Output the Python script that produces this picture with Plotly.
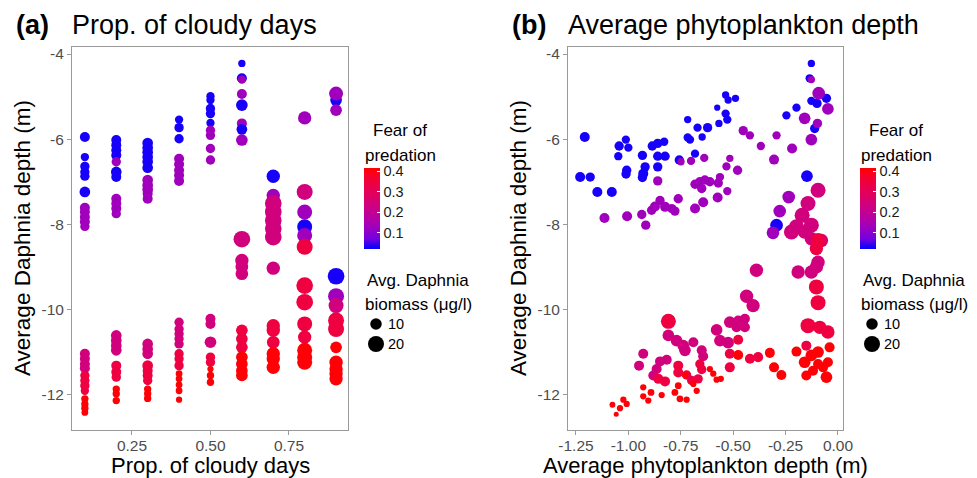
import math
import plotly.graph_objects as go

# ---------------- Panel (a): proportion of cloudy days ----------------
cloudy_a = [
    0.1, 0.1, 0.1, 0.1, 0.1, 0.1, 0.1, 0.1, 0.1, 0.1, 0.1, 0.1, 0.1, 0.1, 0.1, 0.1, 0.1, 0.1, 0.1, 0.1, 0.1, 0.1, 0.1,
    0.2, 0.2, 0.2, 0.2, 0.2, 0.2, 0.2, 0.2, 0.2, 0.2, 0.2, 0.2, 0.2, 0.2, 0.2, 0.2, 0.2, 0.2, 0.2, 0.2, 0.2,
    0.3, 0.3, 0.3, 0.3, 0.3, 0.3, 0.3, 0.3, 0.3, 0.3, 0.3, 0.3, 0.3, 0.3, 0.3, 0.3, 0.3, 0.3, 0.3, 0.3, 0.3,
    0.4, 0.4, 0.4, 0.4, 0.4, 0.4, 0.4, 0.4, 0.4, 0.4, 0.4, 0.4, 0.4, 0.4, 0.4, 0.4, 0.4, 0.4, 0.4, 0.4, 0.4,
    0.5, 0.5, 0.5, 0.5, 0.5, 0.5, 0.5, 0.5, 0.5, 0.5, 0.5, 0.5, 0.5, 0.5, 0.5, 0.5, 0.5,
    0.6, 0.6, 0.6, 0.6, 0.6, 0.6, 0.6, 0.6, 0.6, 0.6, 0.6, 0.6, 0.6, 0.6, 0.6, 0.6, 0.6, 0.6, 0.6,
    0.7, 0.7, 0.7, 0.7, 0.7, 0.7, 0.7, 0.7, 0.7, 0.7, 0.7, 0.7, 0.7, 0.7,
    0.8, 0.8, 0.8, 0.8, 0.8, 0.8, 0.8, 0.8, 0.8, 0.8, 0.8, 0.8, 0.8,
    0.9, 0.9, 0.9, 0.9, 0.9, 0.9, 0.9, 0.9, 0.9, 0.9, 0.9, 0.9, 0.9,
]
depth_a = [
    -5.95, -6.42, -6.64, -6.77, -6.87, -7.24, -7.61, -7.71, -7.83, -7.94, -8.05, -11.04, -11.16, -11.28, -11.38, -11.55, -11.67, -11.79, -11.91, -12.10, -12.22, -12.32, -12.42,
    -6.02, -6.14, -6.26, -6.38, -6.53, -6.77, -6.89, -7.40, -7.51, -7.63, -7.75, -10.61, -10.73, -10.85, -10.96, -11.32, -11.47, -11.59, -11.87, -11.98, -12.14,
    -6.09, -6.20, -6.31, -6.42, -6.53, -6.67, -6.96, -7.08, -7.18, -7.28, -7.40, -10.81, -10.93, -11.04, -11.32, -11.44, -11.55, -11.67, -11.87, -11.98, -12.09,
    -5.54, -5.73, -5.99, -6.46, -6.59, -6.73, -6.85, -6.98, -10.30, -10.46, -10.57, -10.69, -10.81, -11.04, -11.16, -11.32, -11.51, -11.63, -11.77, -11.91, -12.12,
    -4.99, -5.08, -5.28, -5.40, -5.62, -5.79, -5.91, -6.22, -6.49, -10.22, -10.34, -10.77, -11.12, -11.24, -11.40, -11.55, -11.71,
    -4.22, -4.57, -4.60, -4.94, -5.20, -5.63, -5.77, -6.02, -8.35, -8.85, -9.00, -9.16, -10.49, -10.69, -10.89, -11.12, -11.28, -11.44, -11.55,
    -6.87, -7.32, -7.51, -7.71, -7.91, -8.10, -8.30, -9.03, -10.38, -10.49, -10.77, -11.04, -11.16, -11.36,
    -5.50, -7.24, -7.71, -8.06, -8.26, -8.53, -9.44, -9.83, -10.34, -10.65, -10.96, -11.12, -11.24,
    -5.08, -4.93, -5.32, -9.22, -9.69, -9.91, -10.26, -10.46, -10.89, -11.24, -11.40, -11.51, -11.63,
]
fear_a = [
    0.03, 0.03, 0.03, 0.03, 0.03, 0.03, 0.13, 0.13, 0.13, 0.13, 0.13, 0.24, 0.24, 0.24, 0.24, 0.34, 0.34, 0.34, 0.34, 0.41, 0.41, 0.41, 0.41,
    0.03, 0.03, 0.03, 0.03, 0.13, 0.03, 0.03, 0.13, 0.13, 0.13, 0.13, 0.24, 0.24, 0.24, 0.24, 0.34, 0.34, 0.34, 0.41, 0.41, 0.41,
    0.03, 0.03, 0.03, 0.03, 0.03, 0.03, 0.13, 0.13, 0.13, 0.13, 0.13, 0.24, 0.24, 0.24, 0.34, 0.34, 0.34, 0.34, 0.41, 0.41, 0.41,
    0.03, 0.03, 0.03, 0.13, 0.13, 0.13, 0.13, 0.13, 0.24, 0.24, 0.24, 0.24, 0.24, 0.34, 0.34, 0.34, 0.41, 0.41, 0.41, 0.41, 0.41,
    0.03, 0.03, 0.03, 0.03, 0.03, 0.13, 0.13, 0.13, 0.13, 0.24, 0.24, 0.24, 0.34, 0.34, 0.41, 0.41, 0.41,
    0.03, 0.03, 0.13, 0.13, 0.03, 0.13, 0.03, 0.13, 0.24, 0.24, 0.24, 0.24, 0.34, 0.34, 0.34, 0.41, 0.41, 0.41, 0.41,
    0.03, 0.13, 0.24, 0.24, 0.24, 0.24, 0.24, 0.24, 0.34, 0.34, 0.34, 0.41, 0.41, 0.41,
    0.13, 0.24, 0.13, 0.03, 0.13, 0.34, 0.34, 0.34, 0.34, 0.34, 0.41, 0.41, 0.41,
    0.03, 0.13, 0.13, 0.03, 0.13, 0.24, 0.34, 0.34, 0.41, 0.41, 0.41, 0.41, 0.41,
]
biomass_a = [
    7.8, 6.0, 7.0, 7.0, 7.0, 8.7, 7.8, 7.8, 7.8, 7.8, 7.0, 7.8, 7.8, 7.8, 7.8, 7.0, 7.0, 7.0, 6.0, 5.3, 5.3, 5.3, 5.0,
    7.8, 7.8, 7.8, 7.8, 7.0, 8.7, 7.8, 7.8, 7.8, 7.8, 7.0, 8.7, 8.7, 8.7, 8.7, 7.8, 7.8, 7.0, 5.3, 5.3, 5.3,
    8.7, 8.7, 8.7, 8.7, 8.7, 8.7, 8.7, 8.7, 8.7, 7.8, 7.8, 8.7, 8.7, 8.7, 8.7, 7.8, 7.8, 7.0, 5.3, 5.3, 5.3,
    6.0, 7.0, 7.0, 7.8, 7.8, 7.8, 7.8, 7.8, 7.0, 7.0, 7.0, 7.0, 7.0, 7.0, 7.0, 7.0, 5.0, 5.0, 5.0, 5.0, 4.8,
    6.0, 6.0, 7.0, 7.0, 6.0, 7.0, 7.0, 7.0, 7.0, 7.8, 7.8, 10.3, 7.0, 7.0, 4.8, 5.3, 5.3,
    5.3, 7.8, 6.0, 7.8, 10.3, 7.8, 8.7, 10.3, 21.9, 13.5, 12.1, 12.1, 10.3, 10.3, 10.3, 10.3, 10.3, 10.3, 10.3,
    13.5, 13.5, 21.9, 21.9, 21.9, 21.9, 21.9, 13.5, 13.5, 13.5, 12.1, 13.5, 13.5, 13.5,
    13.5, 20.0, 17.3, 17.3, 17.3, 20.0, 21.9, 21.9, 17.3, 13.5, 17.3, 17.3, 17.3,
    10.3, 14.9, 10.3, 21.9, 20.0, 17.3, 20.0, 20.0, 10.3, 13.5, 13.5, 13.5, 13.5,
]

# ---------------- Panel (b): average phytoplankton depth ----------------
phyto_b = [
    # low fear
    -1.208, -1.230, -1.182, -1.148, -1.079, -1.048, -1.044, -1.012, -1.000, -1.008,
    -1.011, -0.933, -0.920, -0.929, -0.933, -0.886, -0.860, -0.829, -0.860, -0.825,
    -0.860, -0.757, -0.717, -0.717, -0.706, -0.682, -0.670, -0.648, -0.622, -0.568,
    -0.576, -0.536, -0.528, -0.536, -0.524, -0.489, -0.246, -0.198, -0.127, -0.135,
    -0.127, -0.100, -0.055, -0.111, -0.148, -0.293,
    # moderate-low fear
    -0.127, -0.092, -0.048, -0.159, -0.098, -0.127, -0.219, -0.305, -0.293, -0.368,
    -0.452, -0.420, -0.638, -0.516, -0.532, -0.479, -0.749, -0.701, -0.860, -0.682,
    -0.659, -0.635, -0.611, -0.650, -0.563, -0.571, -0.528, -0.574, -0.643, -0.682,
    -0.762, -0.849, -0.873, -0.825, -0.793, -0.889, -0.778, -1.114, -1.006, -0.936,
    -0.917, -0.235, -0.278, -0.310,
    # moderate fear
    -0.095, -0.143, -0.171, -0.198, -0.127, -0.222, -0.159, -0.127, -0.079, -0.389,
    -0.190, -0.127, -0.095, -0.103, -0.436, -0.405, -0.516, -0.476, -0.444, -0.444,
    -0.484, -0.579, -0.563, -0.524, -0.809, -0.770, -0.738, -0.690, -0.730, -0.650,
    -0.643, -0.929, -0.949, -0.849, -0.817, -0.865, -0.881,
    # moderate-high fear
    -0.095, -0.103, -0.103, -0.095, -0.809, -0.476, -0.762, -0.762, -0.722, -0.659,
    -0.650, -0.667, -0.857, -0.825, -0.698, -0.516, -0.516, -0.420, -0.381, -0.143,
    -0.087, -0.048, -0.151,
    # high fear
    -0.476, -0.325, -0.305, -0.270, -0.198, -0.159, -0.127, -0.095, -0.040, -0.048,
    -0.071, -0.119, -0.151, -0.055, -0.095, -0.611, -0.595, -0.579, -0.559, -0.674,
    -0.690, -0.730, -0.762, -0.778, -0.754, -0.722, -0.841, -0.892, -0.905, -0.929,
    -0.929, -1.024, -1.008, -1.040, -1.076, -1.058,
]
depth_b = [
    -5.95, -6.89, -6.89, -7.24, -7.24, -6.40, -6.16, -6.01, -6.20, -6.73,
    -6.82, -6.38, -6.65, -6.81, -6.90, -6.16, -6.10, -6.06, -6.40, -6.40,
    -6.65, -6.49, -5.54, -5.96, -6.01, -6.34, -5.73, -5.95, -5.73, -5.63,
    -5.26, -5.40, -5.54, -4.96, -5.08, -5.04, -5.44, -5.26, -4.22, -4.57,
    -5.10, -5.16, -5.04, -5.75, -6.87, -8.02,
    -4.60, -4.92, -5.29, -5.51, -5.63, -6.01, -6.22, -6.48, -5.91, -6.16,
    -5.80, -5.91, -6.44, -6.45, -6.64, -6.73, -6.53, -6.51, -6.98, -7.06,
    -7.00, -6.96, -7.00, -7.16, -6.89, -7.03, -7.22, -7.37, -7.48, -7.63,
    -7.40, -7.44, -7.58, -7.59, -7.63, -7.67, -7.69, -7.85, -7.81, -7.77,
    -8.02, -7.36, -7.69, -8.20,
    -7.20, -7.51, -7.79, -8.06, -8.02, -8.18, -8.18, -8.34, -8.38, -9.08,
    -9.12, -9.12, -8.89, -9.00, -9.69, -9.91, -10.30, -10.26, -10.22, -10.42,
    -10.42, -10.48, -10.73, -10.78, -10.61, -10.73, -10.85, -10.77, -10.96, -10.96,
    -11.10, -11.04, -11.32, -11.22, -11.18, -11.40, -11.55,
    -8.38, -8.57, -9.47, -9.84, -10.28, -10.71, -11.32, -11.48, -11.54, -11.28,
    -11.41, -11.63, -11.63, -11.69, -11.67, -11.04, -11.36, -11.16, -11.12, -10.38,
    -10.42, -10.53, -10.85,
    -11.07, -11.02, -11.36, -11.54, -10.99, -11.24, -11.08, -11.00, -10.89, -11.24,
    -11.36, -11.44, -11.55, -11.59, -11.28, -11.40, -11.51, -11.65, -11.63, -11.91,
    -11.75, -11.54, -11.79, -11.95, -12.10, -12.12, -12.01, -11.95, -12.14, -11.83,
    -12.04, -12.12, -12.22, -12.32, -12.24, -12.46,
]
fear_b = [
    0.03, 0.03, 0.03, 0.03, 0.03, 0.03, 0.03, 0.03, 0.03, 0.03,
    0.03, 0.03, 0.03, 0.03, 0.03, 0.03, 0.03, 0.03, 0.03, 0.03,
    0.03, 0.03, 0.03, 0.03, 0.03, 0.03, 0.03, 0.03, 0.03, 0.03,
    0.03, 0.03, 0.03, 0.03, 0.03, 0.03, 0.03, 0.03, 0.03, 0.03,
    0.03, 0.03, 0.03, 0.03, 0.03, 0.03,
    0.13, 0.13, 0.13, 0.13, 0.13, 0.13, 0.13, 0.13, 0.13, 0.13,
    0.13, 0.13, 0.13, 0.13, 0.13, 0.13, 0.13, 0.13, 0.13, 0.13,
    0.13, 0.13, 0.13, 0.13, 0.13, 0.13, 0.13, 0.13, 0.13, 0.13,
    0.13, 0.13, 0.13, 0.13, 0.13, 0.13, 0.13, 0.13, 0.13, 0.13,
    0.13, 0.13, 0.13, 0.13,
    0.24, 0.24, 0.24, 0.24, 0.24, 0.24, 0.24, 0.24, 0.24, 0.24,
    0.24, 0.24, 0.24, 0.24, 0.24, 0.24, 0.24, 0.24, 0.24, 0.24,
    0.24, 0.24, 0.24, 0.24, 0.24, 0.24, 0.24, 0.24, 0.24, 0.24,
    0.24, 0.24, 0.24, 0.24, 0.24, 0.24, 0.24,
    0.34, 0.34, 0.34, 0.34, 0.34, 0.34, 0.34, 0.34, 0.34, 0.34,
    0.34, 0.34, 0.34, 0.34, 0.34, 0.34, 0.34, 0.34, 0.34, 0.34,
    0.34, 0.34, 0.34,
    0.41, 0.41, 0.41, 0.41, 0.41, 0.41, 0.41, 0.41, 0.41, 0.41,
    0.41, 0.41, 0.41, 0.41, 0.41, 0.41, 0.41, 0.41, 0.41, 0.41,
    0.41, 0.41, 0.41, 0.41, 0.41, 0.41, 0.41, 0.41, 0.41, 0.41,
    0.41, 0.41, 0.41, 0.41, 0.41, 0.41,
]
biomass_b = [
    7.8, 7.8, 7.0, 7.8, 7.8, 6.0, 7.0, 6.0, 6.0, 7.0,
    7.0, 7.0, 7.0, 7.8, 7.0, 7.0, 7.0, 6.0, 7.0, 7.0,
    7.0, 7.0, 5.3, 6.0, 6.0, 6.0, 6.0, 5.3, 7.0, 5.3,
    4.8, 6.0, 6.0, 5.3, 5.3, 5.3, 6.0, 6.0, 5.3, 6.0,
    6.0, 7.0, 7.0, 7.0, 10.3, 12.1,
    5.3, 12.1, 10.3, 10.3, 7.0, 10.3, 7.8, 7.8, 6.0, 6.0,
    7.0, 6.0, 6.0, 5.3, 6.0, 7.0, 5.3, 6.0, 7.0, 7.0,
    7.0, 7.0, 7.0, 7.0, 6.0, 7.0, 6.0, 7.8, 7.8, 7.8,
    7.0, 7.0, 7.8, 7.8, 7.0, 7.0, 7.0, 7.8, 7.8, 7.0,
    7.0, 12.1, 12.1, 12.1,
    17.3, 17.3, 17.3, 17.3, 17.3, 17.3, 13.5, 13.5, 13.5, 13.5,
    13.5, 13.5, 13.5, 13.5, 13.5, 13.5, 10.3, 7.8, 7.8, 7.8,
    7.8, 10.3, 10.3, 10.3, 10.3, 10.3, 10.3, 7.8, 10.3, 7.8,
    7.8, 7.8, 7.8, 7.8, 7.8, 7.8, 7.8,
    17.3, 13.5, 17.3, 17.3, 17.3, 7.8, 7.8, 7.8, 7.0, 7.0,
    7.0, 7.0, 7.8, 7.8, 7.0, 7.8, 7.8, 7.8, 7.8, 17.3,
    13.5, 13.5, 7.8,
    7.8, 7.8, 7.8, 7.8, 7.8, 10.3, 10.3, 10.3, 7.8, 7.8,
    7.8, 7.8, 7.8, 10.3, 7.8, 4.8, 4.8, 4.8, 4.8, 4.8,
    4.8, 4.8, 5.0, 5.0, 5.0, 4.8, 4.8, 5.0, 4.8, 4.8,
    4.8, 4.8, 4.8, 4.8, 4.7, 4.6,
]

# tick labels / legend values
x_ticks_a = [0.25, 0.50, 0.75]
x_ticktext_a = ["0.25", "0.50", "0.75"]
x_ticks_b = [-1.25, -1.00, -0.75, -0.50, -0.25, 0.00]
x_ticktext_b = ["-1.25", "-1.00", "-0.75", "-0.50", "-0.25", "0.00"]
y_ticks = [-12, -10, -8, -6, -4]
y_ticktext = ["-12", "-10", "-8", "-6", "-4"]
fear_ticks = [0.1, 0.2, 0.3, 0.4]
biomass_legend = [10, 20]

assert len(cloudy_a) == len(depth_a) == len(fear_a) == len(biomass_a)
assert len(phyto_b) == len(depth_b) == len(fear_b) == len(biomass_b)

# ---------------- styling ----------------
W, H = 977, 478
OFF = 8  # page body margin in the browser: figure origin sits at (8, 8)
FONT = "Liberation Sans, Arial, Helvetica, sans-serif"
GRAY = "#9a9a9a"
TICKCOL = "#4d4d4d"

# blue -> red gradient (Lab interpolation, like ggplot2)
colorscale = [
    [0.0, "#0000FF"], [0.125, "#7300E0"], [0.25, "#9A00C2"], [0.375, "#B500A5"],
    [0.5, "#CA0089"], [0.625, "#DA006C"], [0.75, "#E8004F"], [0.875, "#F40031"],
    [1.0, "#FF0000"],
]
CMIN, CMAX = 0.02, 0.415


def diam(v):
    # area-style size scale (like ggplot2 scale_size)
    return 5 + 13 * math.sqrt(max(v - 4.6, 0) / 21.5)


def px(x):
    return (x - OFF) / W


def py(y):
    return 1 - (y - OFF) / H


fig = go.Figure()
fig.add_trace(go.Scatter(
    x=cloudy_a, y=depth_a, mode="markers", xaxis="x", yaxis="y",
    marker=dict(size=[diam(v) for v in biomass_a], color=fear_a,
                coloraxis="coloraxis", line=dict(width=0), opacity=1),
    showlegend=False, hoverinfo="skip"))
fig.add_trace(go.Scatter(
    x=phyto_b, y=depth_b, mode="markers", xaxis="x2", yaxis="y2",
    marker=dict(size=[diam(v) for v in biomass_b], color=fear_b,
                coloraxis="coloraxis2", line=dict(width=0), opacity=1),
    showlegend=False, hoverinfo="skip"))

axis_common = dict(showline=True, mirror=True, linecolor=GRAY, linewidth=1,
                   ticks="outside", ticklen=4, tickwidth=1, tickcolor=GRAY,
                   showgrid=False, zeroline=False, automargin=False,
                   tickfont=dict(family=FONT, size=15.5, color=TICKCOL))
xaxis_extra = dict(ticklabelstandoff=-2)
yrange = [-12.82, -3.835]
ydom = [py(429.5), py(47)]


def cbar(x_left):
    return dict(x=px(x_left), xanchor="left", xpad=0, y=py(208.5), yanchor="middle",
                ypad=0, len=81, lenmode="pixels", thickness=16, thicknessmode="pixels",
                outlinewidth=0, tickvals=fear_ticks, ticks="inside", ticklen=3,
                tickcolor="white", tickwidth=1,
                tickfont=dict(family=FONT, size=14.5, color="#1a1a1a"))


fig.update_layout(
    width=W, height=H, autosize=False,
    margin=dict(l=0, r=0, t=0, b=0, pad=0, autoexpand=False),
    paper_bgcolor="white", plot_bgcolor="white",
    font=dict(family=FONT, color="black"),
    xaxis=dict(domain=[px(72), px(348)], range=[0.059, 0.938], anchor="y",
               tickvals=x_ticks_a, ticktext=x_ticktext_a, **axis_common, **xaxis_extra),
    yaxis=dict(domain=ydom, range=yrange, anchor="x", tickvals=y_ticks,
               ticktext=y_ticktext, **axis_common),
    xaxis2=dict(domain=[px(568), px(843)], range=[-1.288, 0.024], anchor="y2",
                tickvals=x_ticks_b, ticktext=x_ticktext_b, **axis_common, **xaxis_extra),
    yaxis2=dict(domain=ydom, range=yrange, anchor="x2", tickvals=y_ticks,
                ticktext=y_ticktext, **axis_common),
    coloraxis=dict(colorscale=colorscale, cmin=CMIN, cmax=CMAX, colorbar=cbar(364)),
    coloraxis2=dict(colorscale=colorscale, cmin=CMIN, cmax=CMAX, colorbar=cbar(860)),
)

ann = []


def text(x, y, s, size, xanchor="left", angle=0, bold=False):
    ann.append(dict(x=px(x), y=py(y), xref="paper", yref="paper", text=("<b>%s</b>" % s) if bold else s,
                    showarrow=False, xanchor=xanchor, yanchor="middle", textangle=angle,
                    font=dict(family=FONT, size=size, color="black"), borderpad=0))


for off, tag, title, xtitle in [(0, "(a)", "Prop. of cloudy days", "Prop. of cloudy days"),
                                 (496, "(b)", "Average phytoplankton depth", "Average phytoplankton depth (m)")]:
    text(15 + off, 25, tag, 27, bold=True)
    text(71 + off, 25, title, 27)
    text(22 + off, 238, "Average Daphnia depth (m)", 22.5, xanchor="center", angle=-90)
    xc = 210 if off == 0 else 705.5
    text(xc, 465, xtitle, 22, xanchor="center")
    lx = 400 + off
    text(lx, 131, "Fear of", 17, xanchor="center")
    text(lx, 155, "predation", 17, xanchor="center")
    text(418 + off, 280, "Avg. Daphnia", 17, xanchor="center")
    text(418 + off, 304, "biomass (\u03bcg/l)", 17, xanchor="center")

shapes = []
for off in (0, 496):
    for val, cy in zip(biomass_legend, (324, 344)):
        r = diam(val) / 2
        shapes.append(dict(type="circle", xref="paper", yref="paper",
                           xsizemode="pixel", ysizemode="pixel",
                           xanchor=px(376 + off), yanchor=py(cy),
                           x0=-r, x1=r, y0=-r, y1=r,
                           fillcolor="black", line=dict(width=0)))
        text(387 + off, cy, str(val), 14.5)

fig.update_layout(annotations=ann, shapes=shapes)
fig.write_html("out.html")
